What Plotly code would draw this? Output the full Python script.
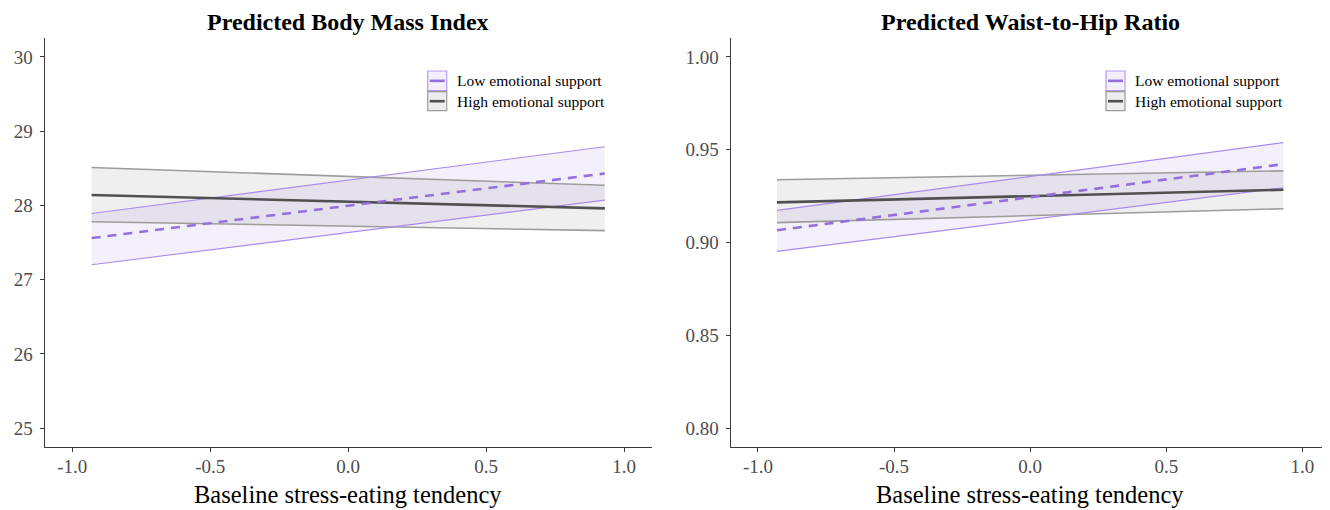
import plotly.graph_objects as go

# page has an 8px body margin; figure is drawn at (8, 8)
OFF = 8
W, H = 1330 - OFF, 510 - OFF

# ---- data ----
x_ends = [-0.93, 0.93]

# Panel 1: Predicted Body Mass Index
bmi_low_mean = [27.56, 28.43]
bmi_low_lo = [27.20, 28.07]
bmi_low_hi = [27.89, 28.79]
bmi_high_mean = [28.14, 27.96]
bmi_high_lo = [27.78, 27.66]
bmi_high_hi = [28.51, 28.27]

# Panel 2: Predicted Waist-to-Hip Ratio
whr_low_mean = [0.9066, 0.9422]
whr_low_lo = [0.8952, 0.9295]
whr_low_hi = [0.9173, 0.9538]
whr_high_mean = [0.9216, 0.9284]
whr_high_lo = [0.9107, 0.9182]
whr_high_hi = [0.9338, 0.9386]

x_tick_vals = [-1.0, -0.5, 0.0, 0.5, 1.0]
x_tick_text = ["-1.0", "-0.5", "0.0", "0.5", "1.0"]
bmi_tick_vals = [25, 26, 27, 28, 29, 30]
bmi_tick_text = ["25", "26", "27", "28", "29", "30"]
whr_tick_vals = [0.80, 0.85, 0.90, 0.95, 1.00]
whr_tick_text = ["0.80", "0.85", "0.90", "0.95", "1.00"]

titles = ["Predicted Body Mass Index", "Predicted Waist-to-Hip Ratio"]
x_title = "Baseline stress-eating tendency"
legend_labels = ["Low emotional support", "High emotional support"]

# ---- styles ----
FONT = "Liberation Serif"
PURPLE = "#9370DB"
PURPLE_EDGE = "#A88BEB"
PURPLE_FILL = "rgba(147,112,219,0.10)"
GREY_EDGE = "#9C9C9C"
GREY_FILL = "rgba(128,128,128,0.13)"
DARK = "#505050"
AXIS = "#3A3A3A"
TICKFONT = "#4D4D4D"


def px(x):
    return (x - OFF) / W


def py(y):
    return 1 - (y - OFF) / H


fig = go.Figure()


def add_panel(xa, ya, low_mean, low_lo, low_hi, high_mean, high_lo, high_hi):
    fig.add_trace(go.Scatter(
        x=x_ends + x_ends[::-1], y=high_lo + high_hi[::-1], fill="toself",
        fillcolor=GREY_FILL, line=dict(width=0), mode="lines",
        xaxis=xa, yaxis=ya, showlegend=False, hoverinfo="skip"))
    fig.add_trace(go.Scatter(
        x=x_ends + x_ends[::-1], y=low_lo + low_hi[::-1], fill="toself",
        fillcolor=PURPLE_FILL, line=dict(width=0), mode="lines",
        xaxis=xa, yaxis=ya, showlegend=False, hoverinfo="skip"))
    for yy in (high_lo, high_hi):
        fig.add_trace(go.Scatter(x=x_ends, y=yy, mode="lines",
                                 line=dict(color=GREY_EDGE, width=1.6),
                                 xaxis=xa, yaxis=ya, showlegend=False))
    for yy in (low_lo, low_hi):
        fig.add_trace(go.Scatter(x=x_ends, y=yy, mode="lines",
                                 line=dict(color=PURPLE_EDGE, width=1.1),
                                 xaxis=xa, yaxis=ya, showlegend=False))
    fig.add_trace(go.Scatter(x=x_ends, y=high_mean, mode="lines",
                             line=dict(color=DARK, width=2.6),
                             xaxis=xa, yaxis=ya, showlegend=False))
    fig.add_trace(go.Scatter(x=x_ends, y=low_mean, mode="lines",
                             line=dict(color=PURPLE, width=2.6, dash="9px,7px"),
                             xaxis=xa, yaxis=ya, showlegend=False))


add_panel("x", "y", bmi_low_mean, bmi_low_lo, bmi_low_hi,
          bmi_high_mean, bmi_high_lo, bmi_high_hi)
add_panel("x2", "y2", whr_low_mean, whr_low_lo, whr_low_hi,
          whr_high_mean, whr_high_lo, whr_high_hi)

x_dom1 = [px(44.7), px(651.7)]
x_dom2 = [px(730.7), min(1.0, px(1329.7))]
y_dom = [py(446.7), py(38.3)]

base_axis = dict(showline=True, linecolor=AXIS, linewidth=1.2, showgrid=False,
                 zeroline=False, ticks="outside", ticklen=4, tickcolor=AXIS,
                 tickwidth=1, tickfont=dict(family=FONT, size=19, color=TICKFONT))
x_axis = dict(base_axis, ticklabelstandoff=-2)
y_axis = dict(base_axis, ticklabelstandoff=3)

fig.update_layout(
    width=W, height=H,
    margin=dict(l=0, r=0, t=0, b=0),
    paper_bgcolor="white", plot_bgcolor="white",
    showlegend=False,
    xaxis=dict(domain=x_dom1, range=[-1.1, 1.1], tickvals=x_tick_vals,
               ticktext=x_tick_text, anchor="y", **x_axis),
    yaxis=dict(domain=y_dom, range=[24.75, 30.25], tickvals=bmi_tick_vals,
               ticktext=bmi_tick_text, anchor="x", **y_axis),
    xaxis2=dict(domain=x_dom2, range=[-1.1, 1.1], tickvals=x_tick_vals,
                ticktext=x_tick_text, anchor="y2", **x_axis),
    yaxis2=dict(domain=y_dom, range=[0.79, 1.01], tickvals=whr_tick_vals,
                ticktext=whr_tick_text, anchor="x2", **y_axis),
)

annotations = []
shapes = []
for dom, title in zip([x_dom1, x_dom2], titles):
    cx = (dom[0] + dom[1]) / 2
    annotations.append(dict(text="<b>%s</b>" % title, x=cx, y=py(22), xref="paper",
                            yref="paper", xanchor="center", yanchor="middle",
                            showarrow=False,
                            font=dict(family=FONT, size=24, color="black")))
    annotations.append(dict(text=x_title, x=cx, y=py(494), xref="paper",
                            yref="paper", xanchor="center", yanchor="middle",
                            showarrow=False,
                            font=dict(family=FONT, size=24.5, color="black")))

# legends drawn as keys + text, in each panel's top-right area
for key_x in (427.7, 1106.0):
    rows = [(71.0, 90.7, "#F3EFFD", "#B49CF3", PURPLE),
            (91.7, 110.7, "#EDEDED", "#9A9A9A", DARK)]
    for (y0, y1, fill, edge, lc), label in zip(rows, legend_labels):
        shapes.append(dict(type="rect", xref="paper", yref="paper",
                           x0=px(key_x), x1=px(key_x + 19), y0=py(y1), y1=py(y0),
                           fillcolor=fill, line=dict(color=edge, width=1.2),
                           layer="above"))
        ym = (y0 + y1) / 2
        shapes.append(dict(type="line", xref="paper", yref="paper",
                           x0=px(key_x + 2), x1=px(key_x + 17), y0=py(ym), y1=py(ym),
                           line=dict(color=lc, width=2.6), layer="above"))
        annotations.append(dict(text=label, x=px(key_x + 27), y=py(ym), xref="paper",
                                yref="paper", xanchor="left", yanchor="middle",
                                showarrow=False,
                                font=dict(family=FONT, size=15.5, color="black")))

fig.update_layout(annotations=annotations, shapes=shapes)

fig.write_html("out.html")
